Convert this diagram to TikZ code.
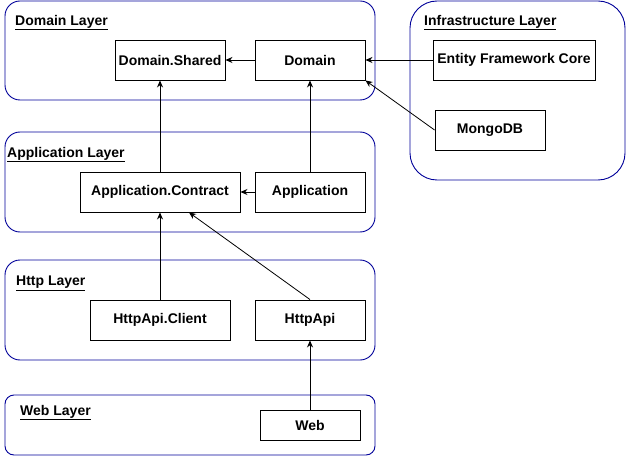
\documentclass[tikz,border=0pt]{standalone}
\usepackage{fontspec}
\setmainfont{Liberation Sans}
\usetikzlibrary{arrows.meta}
\definecolor{layerblue}{RGB}{0,0,153}
\begin{document}
\begin{tikzpicture}[x=1pt, y=-1pt,
        layer/.style={draw=layerblue, line width=0.9pt, inner sep=0pt},
        box/.style={draw, line width=0.9pt, inner sep=0pt, minimum height=40pt,
            font=\fontsize{14}{16}\selectfont\bfseries},
        lbl/.style={anchor=west, inner sep=0pt, font=\fontsize{14}{16}\selectfont\bfseries},
        dep/.style={-{Stealth[length=7pt,width=6pt]}, line width=0.8pt}]
        \useasboundingbox (0,0) rectangle (626,457);

        % Layers
        \node[layer, rounded corners=15pt, minimum width=370pt, minimum height=99pt] (domainLayer) at (190,50.5) {};
        \node[layer, rounded corners=15pt, minimum width=370pt, minimum height=100pt] (appLayer) at (190,182) {};
        \node[layer, rounded corners=15pt, minimum width=370pt, minimum height=100pt] (httpLayer) at (190,310) {};
        \node[layer, rounded corners=9pt, minimum width=370pt, minimum height=60pt] (webLayer) at (190,425) {};
        \node[layer, rounded corners=27pt, minimum width=215pt, minimum height=179pt] (infraLayer) at (517.5,90.5) {};

        \node[lbl] (domainLbl) at (15,22.5) {\underline{Domain Layer}};
        \node[lbl] (appLbl) at (7,154.5) {\underline{Application Layer}};
        \node[lbl] (httpLbl) at (16,283.5) {\underline{Http Layer}};
        \node[lbl] (webLbl) at (20,412.5) {\underline{Web Layer}};
        \node[lbl] (infraLbl) at (424,22.5) {\underline{Infrastructure Layer}};

        % Domain Layer
        \node[box, minimum width=110pt] (domShared) at (170,60) {Domain.Shared};
        \node[box, minimum width=110pt] (domain) at (310,60) {Domain};

        % Application Layer
        \node[box, minimum width=160pt] (appContract) at (160,192) {Application.Contract};
        \node[box, minimum width=110pt] (application) at (310,192) {Application};

        % Http Layer
        \node[box, minimum width=140pt] (httpClient) at (160,320) {HttpApi.Client};
        \node[box, minimum width=110pt] (httpApi) at (310,320) {HttpApi};

        % Web Layer
        \node[box, minimum width=100pt, minimum height=30pt] (web) at (310,425) {Web};

        % Infrastructure Layer
        \node[box, minimum width=162pt] (efCore) at (514,60) {Entity Framework Core};
        \node[box, minimum width=110pt] (mongo) at (490,130) {MongoDB};

        % Dependencies
        \draw[dep] (domain) to (domShared);
        \draw[dep] (application) to (appContract);
        \draw[dep] (appContract.north) to (appContract.north |- domShared.south);
        \draw[dep] (application) to (domain);
        \draw[dep] (httpClient) to (appContract);
        \draw[dep] (httpApi.north) to ([xshift=29pt]appContract.south);
        \draw[dep] (web) to (httpApi);
        \draw[dep] (efCore) to (domain);
        \draw[dep] (mongo.west) to (domain.south east);
    \end{tikzpicture}
\end{document}
